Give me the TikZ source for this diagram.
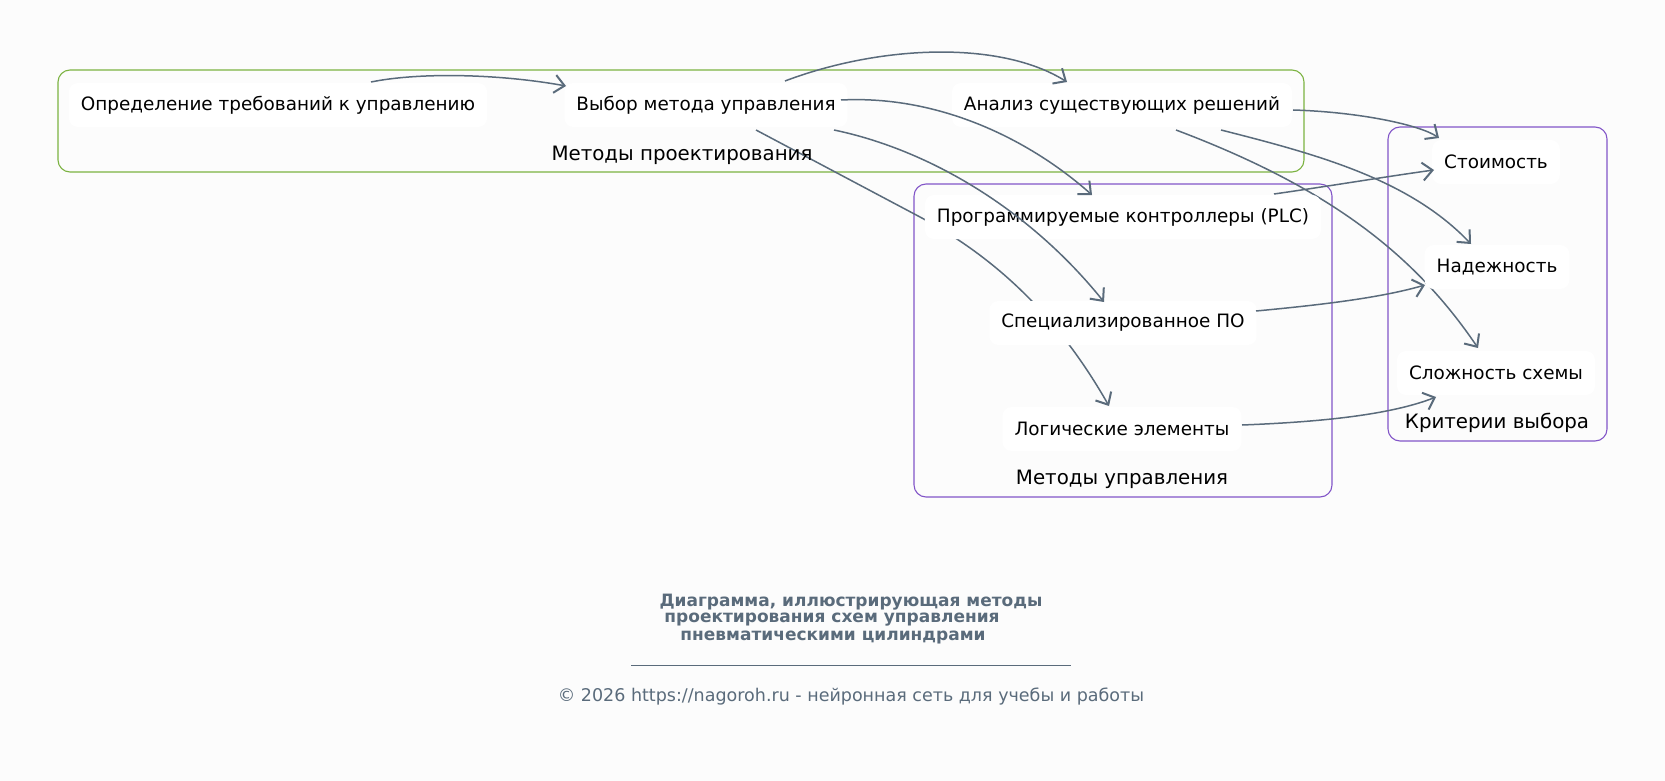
\documentclass[tikz,border=0pt]{standalone}
\usepackage{fontspec}
\setmainfont{DejaVu Sans}
\usetikzlibrary{arrows.meta,calc}
\definecolor{bgc}{HTML}{FCFCFC}
\definecolor{edgec}{HTML}{5A6B7B}
\definecolor{greenc}{HTML}{7CB342}
\definecolor{purplec}{HTML}{8255C8}
\pgfdeclarelayer{bg}
\pgfdeclarelayer{edges}
\pgfdeclarelayer{front}
\pgfsetlayers{bg,edges,main,front}
\tikzset{
  box/.style={fill=white, rounded corners=9pt, minimum height=44pt, inner xsep=12pt, font=\fontsize{18.4}{20}\selectfont, text=black},
  cluster/.style={rounded corners=12pt, line width=1.1pt},
  clabel/.style={font=\fontsize{19.8}{22}\selectfont, text=black},
  edge/.style={draw=edgec, line width=1.5pt, -{Straight Barb[length=10pt,width=18pt,line width=2pt]}},
  ttl/.style={font=\fontsize{17}{18}\selectfont\bfseries, text=edgec},
}
\begin{document}
\begin{tikzpicture}[x=1pt,y=-1pt]
\useasboundingbox (0,0) rectangle (1665,781);
% clusters
\begin{pgfonlayer}{bg}
\fill[bgc] (0,0) rectangle (1665,781);
\draw[cluster, draw=greenc] (58,70) rectangle (1304,172);
\draw[cluster, draw=purplec] (914,184) rectangle (1332,497);
\draw[cluster, draw=purplec] (1388,127) rectangle (1607,441);
\end{pgfonlayer}
\node[clabel] (lab1) at (682,155) {Методы проектирования};
\node[clabel] (lab2) at (1122,479) {Методы управления};
\node[clabel] (lab3) at (1497,423) {Критерии выбора};
% nodes
\node[box] (def) at (278,105) {Определение требований к управлению};
\node[box] (vyb) at (706,105) {Выбор метода управления};
\node[box] (ana) at (1122,105) {Анализ существующих решений};
\node[box] (plc) at (1123,217) {Программируемые контроллеры (PLC)};
\node[box] (spo) at (1123,323) {Специализированное ПО};
\node[box] (log) at (1122,429) {Логические элементы};
\node[box] (sto) at (1496,162) {Стоимость};
\node[box] (nad) at (1497,267) {Надежность};
\node[box] (slo) at (1496,373) {Сложность схемы};
% edges drawn over the nodes
\begin{pgfonlayer}{front}
\coordinate (e1s) at (371,82);
\coordinate (e1e) at (566,86);
\draw[edge] (e1s) .. controls (420,72) and (500,74) .. (e1e);
\coordinate (e2s) at (785,81);
\coordinate (e2e) at (1067,82);
\draw[edge] (e2s) .. controls (880,45) and (1000,40) .. (e2e);
\coordinate (e3s) at (841,100);
\coordinate (e3e) at (1092,195);
\draw[edge] (e3s) .. controls (940,95) and (1030,140) .. (e3e);
\coordinate (e4s) at (834,130);
\coordinate (e4e) at (1104,302);
\draw[edge] (e4s) .. controls (930,150) and (1030,210) .. (e4e);
\coordinate (e6s) at (1293,110);
\coordinate (e6e) at (1439,138);
\draw[edge] (e6s) .. controls (1360,112) and (1420,125) .. (e6e);
\coordinate (e7s) at (1221,130);
\coordinate (e7e) at (1471,244);
\draw[edge] (e7s) .. controls (1320,155) and (1410,180) .. (e7e);
\coordinate (e9s) at (1274,194);
\coordinate (e9e) at (1434,170);
\draw[edge] (e9s) .. controls (1330,186) and (1390,176) .. (e9e);
\coordinate (e10s) at (1256,311);
\coordinate (e10e) at (1425,285);
\draw[edge] (e10s) .. controls (1320,305) and (1380,298) .. (e10e);
\coordinate (e11s) at (1242,425);
\coordinate (e11e) at (1436,397);
\draw[edge] (e11s) .. controls (1320,422) and (1390,415) .. (e11e);
\end{pgfonlayer}
% edges passing behind nodes
\begin{pgfonlayer}{edges}
\coordinate (e5s) at (756,130);
\coordinate (e5m) at (920,217);
\coordinate (e5e) at (1109,406);
\draw[edge] (e5s) -- (e5m) .. controls (1000,260) and (1060,320) .. (e5e);
\coordinate (e8s) at (1176,130);
\coordinate (e8e) at (1478,348);
\draw[edge] (e8s) .. controls (1330,188) and (1415,255) .. (e8e);
\end{pgfonlayer}
% title
\node[ttl] (t1) at (851,602) {Диаграмма, иллюстрирующая методы};
\node[ttl] (t2) at (832,620) {проектирования схем управления};
\node[ttl] (t3) at (833,638) {пневматическими цилиндрами};
\coordinate (ul1) at (631,665);
\coordinate (ul2) at (1071,665);
\draw[edgec, line width=0.8pt] (ul1) -- (ul2);
\node[font=\fontsize{17.5}{19}\selectfont, text=edgec] (copy) at (851,697) {© 2026 https://nagoroh.ru - нейронная сеть для учебы и работы};
\end{tikzpicture}
\end{document}
